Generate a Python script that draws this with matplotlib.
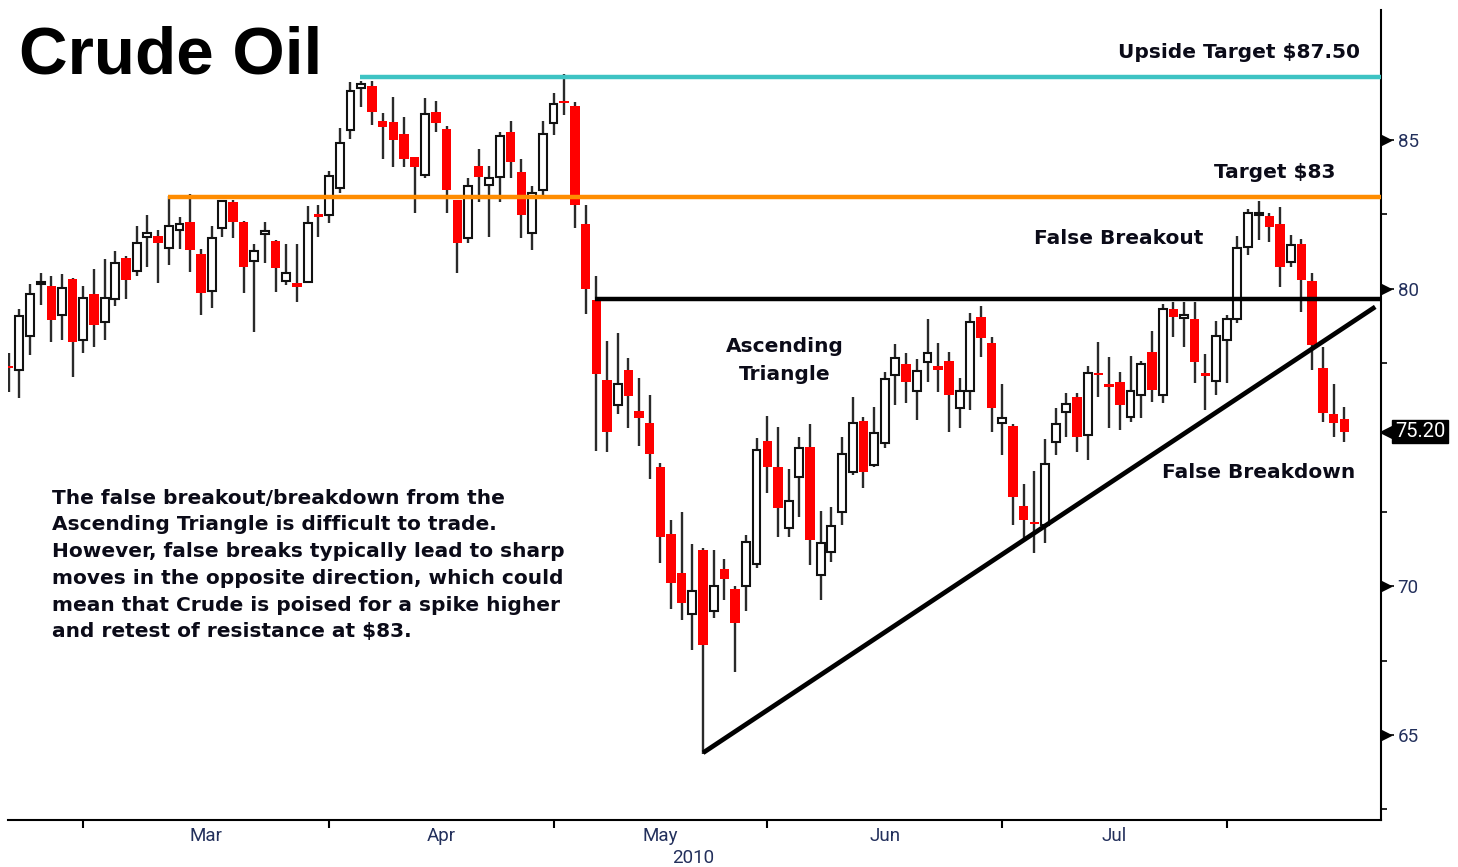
import numpy as np
import pandas as pd
import matplotlib
matplotlib.use("Agg")
import matplotlib.pyplot as plt

# --- Daily crude oil prices, 18 Feb - 17 Aug 2010 ---
dates = pd.bdate_range("2010-02-18", "2010-08-17", freq="C",
                       holidays=["2010-04-02", "2010-05-31", "2010-07-05"])

opens = [77.36, 77.27, 78.41, 80.15, 80.09, 79.12, 80.33, 78.28, 79.81, 78.89,
         79.65, 81.04, 80.60, 81.75, 81.77, 81.36, 81.97, 82.23, 81.17, 79.92,
         82.03, 82.91, 82.23, 80.93, 81.83, 81.62, 80.26, 80.20, 80.24, 82.51,
         82.48, 83.38, 85.34, 86.74, 86.83, 85.64, 85.60, 85.20, 84.42, 83.82,
         85.93, 85.37, 82.98, 81.70, 84.14, 83.49, 83.77, 85.26, 83.91, 81.86,
         83.32, 85.58, 86.28, 86.15, 82.17, 79.62, 76.93, 76.08, 77.28, 75.88,
         75.47, 74.02, 71.77, 70.46, 69.07, 71.23, 69.16, 70.59, 69.92, 70.02,
         70.74, 74.89, 74.00, 71.95, 73.68, 74.67, 70.38, 71.16, 72.51, 73.85,
         75.57, 74.08, 74.81, 77.10, 77.47, 76.56, 77.52, 77.40, 77.58, 76.00,
         76.56, 79.04, 78.19, 75.50, 75.40, 72.71, 72.11, 72.06, 74.86, 75.87,
         76.35, 75.08, 77.16, 76.79, 76.86, 75.70, 76.43, 77.86, 76.43, 79.32,
         79.02, 78.98, 77.12, 76.90, 78.29, 78.97, 81.41, 82.47, 82.46, 82.18,
         80.91, 81.50, 80.27, 77.35, 75.79, 75.61]
highs = [77.85, 79.32, 80.15, 80.54, 80.44, 80.49, 80.37, 80.09, 80.66, 81.00,
         81.28, 81.10, 82.12, 82.48, 81.98, 83.13, 82.40, 83.19, 81.34, 82.12,
         82.98, 82.98, 82.28, 81.50, 82.23, 81.64, 81.50, 81.50, 82.78, 82.81,
         83.96, 85.41, 86.94, 86.99, 86.99, 85.92, 86.44, 85.76, 84.44, 86.42,
         86.32, 85.48, 82.98, 83.71, 84.70, 84.14, 85.28, 85.64, 84.36, 83.45,
         85.64, 86.57, 87.22, 86.27, 82.83, 80.42, 78.23, 78.52, 77.67, 77.00,
         76.43, 74.14, 72.21, 72.50, 71.41, 71.29, 71.23, 70.93, 70.02, 71.73,
         74.97, 75.73, 75.34, 73.94, 75.01, 75.45, 72.54, 72.65, 75.03, 76.35,
         75.68, 76.02, 77.21, 78.14, 77.83, 77.63, 78.98, 78.17, 77.86, 76.99,
         79.20, 79.43, 78.37, 76.80, 75.45, 73.44, 73.88, 74.94, 76.00, 76.51,
         76.49, 77.40, 78.22, 77.70, 77.19, 77.75, 77.57, 78.59, 79.49, 79.57,
         79.57, 79.57, 77.81, 78.92, 79.10, 81.77, 82.67, 82.96, 82.54, 82.74,
         81.81, 81.66, 80.52, 78.03, 76.80, 76.02]
lows = [76.54, 76.33, 77.77, 79.45, 78.20, 78.28, 77.04, 77.83, 78.05, 78.28,
        79.43, 79.66, 80.44, 80.74, 80.18, 80.80, 81.34, 80.57, 79.12, 79.34,
        81.75, 81.70, 79.85, 78.56, 80.86, 79.90, 80.13, 79.57, 80.18, 81.75,
        82.20, 83.21, 85.03, 86.12, 85.50, 84.36, 84.10, 84.10, 82.54, 83.71,
        85.28, 82.54, 80.52, 81.53, 82.93, 81.75, 82.93, 83.71, 81.70, 81.30,
        83.09, 85.17, 85.84, 82.03, 79.15, 74.55, 74.50, 75.79, 75.32, 74.71,
        73.60, 70.78, 69.22, 68.88, 67.86, 64.36, 68.94, 69.55, 67.10, 69.17,
        70.61, 73.12, 71.67, 71.67, 72.34, 70.71, 69.54, 70.83, 72.06, 73.74,
        73.29, 74.02, 74.64, 76.09, 76.15, 75.59, 76.88, 76.54, 75.20, 75.31,
        75.93, 77.72, 75.20, 74.41, 72.06, 71.61, 71.11, 71.44, 74.41, 75.03,
        74.50, 74.24, 76.37, 75.31, 75.25, 75.53, 75.65, 76.20, 76.15, 78.39,
        78.05, 76.82, 75.92, 76.43, 76.83, 78.86, 81.13, 81.64, 81.58, 80.07,
        80.74, 79.23, 77.27, 75.53, 75.03, 74.86]
closes = [77.33, 79.08, 79.81, 80.18, 78.95, 80.04, 78.20, 79.70, 78.78, 79.70,
          80.88, 80.29, 81.55, 81.88, 81.53, 82.11, 82.17, 81.30, 79.85, 81.72,
          82.95, 82.25, 80.74, 81.27, 81.94, 80.69, 80.52, 80.07, 82.22, 82.42,
          83.79, 84.91, 86.65, 86.87, 85.95, 85.45, 85.00, 84.36, 84.08, 85.86,
          85.56, 83.32, 81.53, 83.45, 83.77, 83.73, 85.13, 84.27, 82.48, 83.23,
          85.19, 86.20, 86.23, 82.81, 80.00, 77.12, 75.19, 76.81, 76.40, 75.67,
          74.44, 71.64, 70.11, 69.45, 69.85, 68.03, 70.02, 70.24, 68.75, 71.48,
          74.59, 74.02, 72.62, 72.87, 74.66, 71.56, 71.46, 72.03, 74.44, 75.50,
          73.83, 75.16, 76.97, 77.68, 76.88, 77.24, 77.85, 77.27, 76.43, 76.57,
          78.89, 78.34, 75.98, 75.65, 73.01, 72.23, 72.08, 74.10, 75.44, 76.12,
          75.03, 77.18, 77.10, 76.71, 76.09, 76.56, 77.46, 76.60, 79.31, 79.06,
          79.04, 77.55, 77.08, 78.41, 78.97, 81.38, 82.56, 82.49, 82.09, 80.74,
          81.47, 80.29, 78.11, 75.83, 75.48, 75.20]

# reference levels and trend line
upside_target = 87.12
target = 83.08
resistance = 79.66
trend_x = [65, 127.9]
trend_y = [64.40, 79.39]

note_lines = ["The false breakout/breakdown from the",
              "Ascending Triangle is difficult to trade.",
              "However, false breaks typically lead to sharp",
              "moves in the opposite direction, which could",
              "mean that Crude is poised for a spike higher",
              "and retest of resistance at $83."]

W, H = 1458, 867
NAVY = "#23305c"


def px(x, y):
    return x / W, 1 - y / H


fig = plt.figure(figsize=(W / 100, H / 100), dpi=100)
ax = fig.add_axes([8 / W, 47 / H, 1373 / W, 810 / H])

o = np.array(opens)
h = np.array(highs)
l = np.array(lows)
c = np.array(closes)
x = np.arange(len(dates))
up = c >= o

# wicks
ax.vlines(x, l, h, color="#2a2a2a", lw=1.7, zorder=2)
# bodies
body = np.maximum(np.abs(c - o), 0.08)
ax.bar(x[up], body[up], bottom=np.minimum(o, c)[up], width=0.74,
       color="white", edgecolor="#111111", linewidth=1.5, zorder=3)
ax.bar(x[~up], body[~up], bottom=np.minimum(o, c)[~up], width=0.88,
       color="#ff0000", edgecolor="none", zorder=3)

# horizontal levels
xr = 140
ax.hlines(upside_target, 32.9, xr, color="#3ec3c3", lw=3.2, zorder=4)
ax.hlines(target, 14.97, xr, color="#ff8c00", lw=3.2, zorder=4)
ax.hlines(resistance, 54.9, xr, color="black", lw=3.2, zorder=4)
ax.plot(trend_x, trend_y, color="black", lw=3.4, solid_capstyle="butt", zorder=4)

ax.set_xlim(-0.05, 128.44)
ax.set_ylim(62.14, 89.37)

for s in ["top", "left"]:
    ax.spines[s].set_visible(False)
for s in ["right", "bottom"]:
    ax.spines[s].set_linewidth(1.5)

# x axis: month boundaries + centred labels
starts = np.flatnonzero(np.diff(dates.month) != 0) + 1
mids = (starts[:-1] + starts[1:]) / 2
labels = [d.strftime("%b") for d in dates[starts[:-1]]]
ax.set_xticks(starts)
ax.set_xticklabels([])
ax.set_xticks(mids, minor=True)
ax.set_xticklabels(labels, minor=True)
ax.tick_params(axis="x", which="major", length=6, width=1.5, direction="out")
ax.tick_params(axis="x", which="minor", length=0, pad=5, labelsize=13.5,
               labelcolor=NAVY)
for t in ax.get_xticklabels(minor=True):
    t.set_family("Roboto")
ax.text(64.1, -0.047, "2010", transform=ax.get_xaxis_transform(), ha="center",
        va="center", fontsize=13.5, color=NAVY, family="Roboto")

# y axis on the right, with wedge-shaped major ticks
ax.yaxis.tick_right()
major_y = [65, 70, 80, 85]
ax.set_yticks(major_y)
ax.set_yticks(np.arange(62.5, 85, 5), minor=True)
ax.tick_params(axis="y", which="major", length=9, width=1.2, pad=3,
               labelsize=13.5, labelcolor=NAVY)
ax.tick_params(axis="y", which="minor", length=4, width=1.2)
for t in ax.get_yticklabels():
    t.set_family("Roboto")
ax.plot([1.0035] * len(major_y), major_y, ls="none", marker=">", ms=7,
        color="black", transform=ax.get_yaxis_transform(), clip_on=False, zorder=5)

# last price tag
ax.text(1.0284, closes[-1], "%.2f" % closes[-1], transform=ax.get_yaxis_transform(),
        ha="center", va="center", color="white", fontsize=14.5, family="Roboto",
        bbox=dict(boxstyle="square,pad=0.12", fc="black", ec="black"),
        clip_on=False, zorder=6)
ax.plot([1.0035], [closes[-1]], ls="none", marker="<", ms=9, color="black",
        transform=ax.get_yaxis_transform(), clip_on=False, zorder=6)

# title and annotations
fig.text(*px(19, 73), "Crude Oil", fontsize=48.5, fontweight="bold",
         family="Liberation Sans", va="baseline")

tk = dict(fontsize=14.5, fontweight="bold", color="#0b0b18", family="DejaVu Sans")
fig.text(*px(1360, 52), "Upside Target $87.50", ha="right", va="center", **tk)
fig.text(*px(1336, 172), "Target $83", ha="right", va="center", **tk)
fig.text(*px(1034, 238), "False Breakout", ha="left", va="center", **tk)
fig.text(*px(785, 347), "Ascending", ha="center", va="center", **tk)
fig.text(*px(785, 374), "Triangle", ha="center", va="center", **tk)
fig.text(*px(1162, 472), "False Breakdown", ha="left", va="center", **tk)
for i, line in enumerate(note_lines):
    fig.text(*px(52, 498 + i * 26.8), line, ha="left", va="center", **tk)

fig.savefig("out.png", dpi=100)
